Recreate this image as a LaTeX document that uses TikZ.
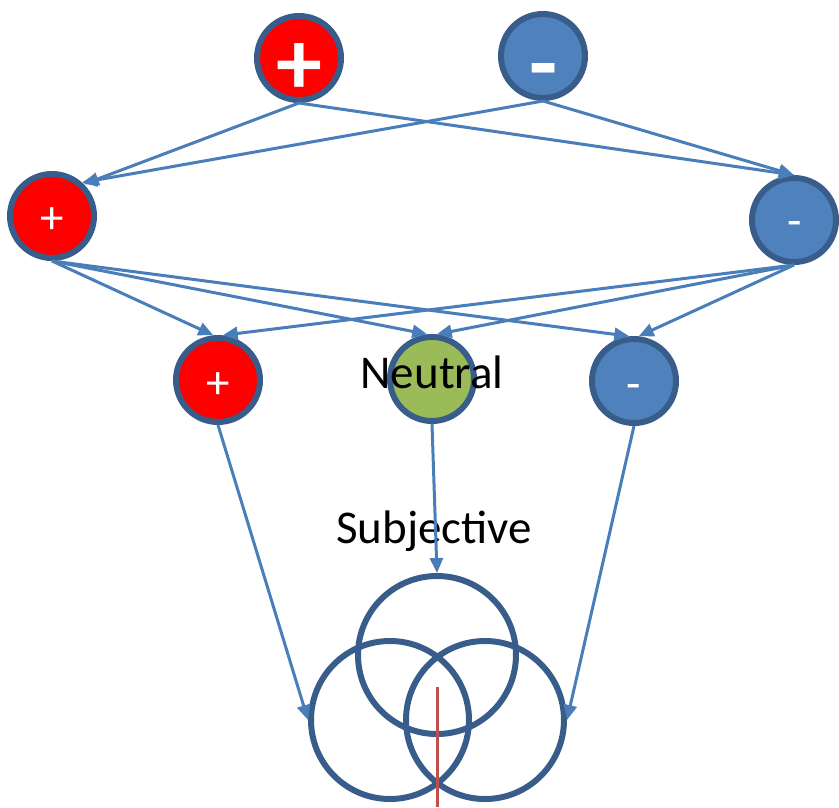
\documentclass[tikz,border=0pt]{standalone}
\usepackage{fontspec}
\setmainfont{Carlito}
\usetikzlibrary{arrows.meta}
\definecolor{redfill}{HTML}{FF0000}
\definecolor{bluefill}{HTML}{4F81BD}
\definecolor{bordblue}{HTML}{385D8A}
\definecolor{greenfill}{HTML}{9BBB59}
\definecolor{arrowblue}{HTML}{4A7EBB}
\definecolor{redline}{HTML}{C0504D}
\tikzset{
  ball/.style={circle, draw=bordblue, line width=6pt, minimum size=84pt, inner sep=0pt},
  posball/.style={ball, fill=redfill},
  negball/.style={ball, fill=bluefill},
  neuball/.style={ball, fill=greenfill},
  venn/.style={circle, draw=bordblue, line width=6pt, minimum size=158pt, inner sep=0pt},
  conn/.style={draw=arrowblue, line width=3pt, -{Triangle[length=15pt,width=13pt]}},
  biglab/.style={text=white, font=\fontsize{92}{96}\selectfont\bfseries, inner sep=0pt},
  smalllab/.style={text=white, font=\fontsize{47}{50}\selectfont, inner sep=0pt},
  wordlab/.style={text=black, font=\fontsize{47}{50}\selectfont, inner sep=0pt, anchor=base},
}
\begin{document}
\begin{tikzpicture}[x=1pt,y=-1pt]
\useasboundingbox (0,0) rectangle (839,807);
% top row
\node[posball] (tp) at (299,58) {};
\node[negball] (tn) at (543,56) {};
% middle row
\node[posball] (mp) at (52,216) {};
\node[negball] (mn) at (794,220) {};
% bottom row
\node[posball] (bp) at (218,380) {};
\node[neuball] (bz) at (432,379) {};
\node[negball] (bn) at (634,381) {};
% labels in circles
\node[biglab] (tpl) at (299,69) {+};
\node[biglab] (tnl) at (544,79) {-};
\node[smalllab] (mpl) at (52,221) {+};
\node[smalllab] (mnl) at (795,229) {-};
\node[smalllab] (bpl) at (218,386) {+};
\node[smalllab] (bnl) at (634,392) {-};
% venn circles
\node[venn] (vt) at (437,655) {};
\node[venn] (vl) at (390,720) {};
\node[venn] (vr) at (485,720) {};
\coordinate (rtop) at (437,687);
\coordinate (rbot) at (437,807);
\draw[redline, line width=3pt] (rtop) -- (rbot);
% words
\node[wordlab] (neut) at (432,388) {Neutral};
\node[wordlab] (subj) at (434,543) {Subjective};
% connectors top -> middle
\draw[conn] (tp.south) -- (mp.45);
\draw[conn] (tn.south) -- (mp.48);
\draw[conn] (tp.south) -- (mn.north);
\draw[conn] (tn.south) -- (mn.north);
% middle -> bottom
\draw[conn] (mp.south) -- (bp.96);
\draw[conn] (mp.south) -- (bz.96);
\draw[conn] (mp.south) -- (bn.96);
\draw[conn] (mn.south) -- (bp.84);
\draw[conn] (mn.south) -- (bz.84);
\draw[conn] (mn.south) -- (bn.84);
% bottom -> venn
\draw[conn] (bp.south) -- (vl.west);
\draw[conn] (bz.south) -- (vt.north);
\draw[conn] (bn.south) -- (vr.east);
\end{tikzpicture}
\end{document}
